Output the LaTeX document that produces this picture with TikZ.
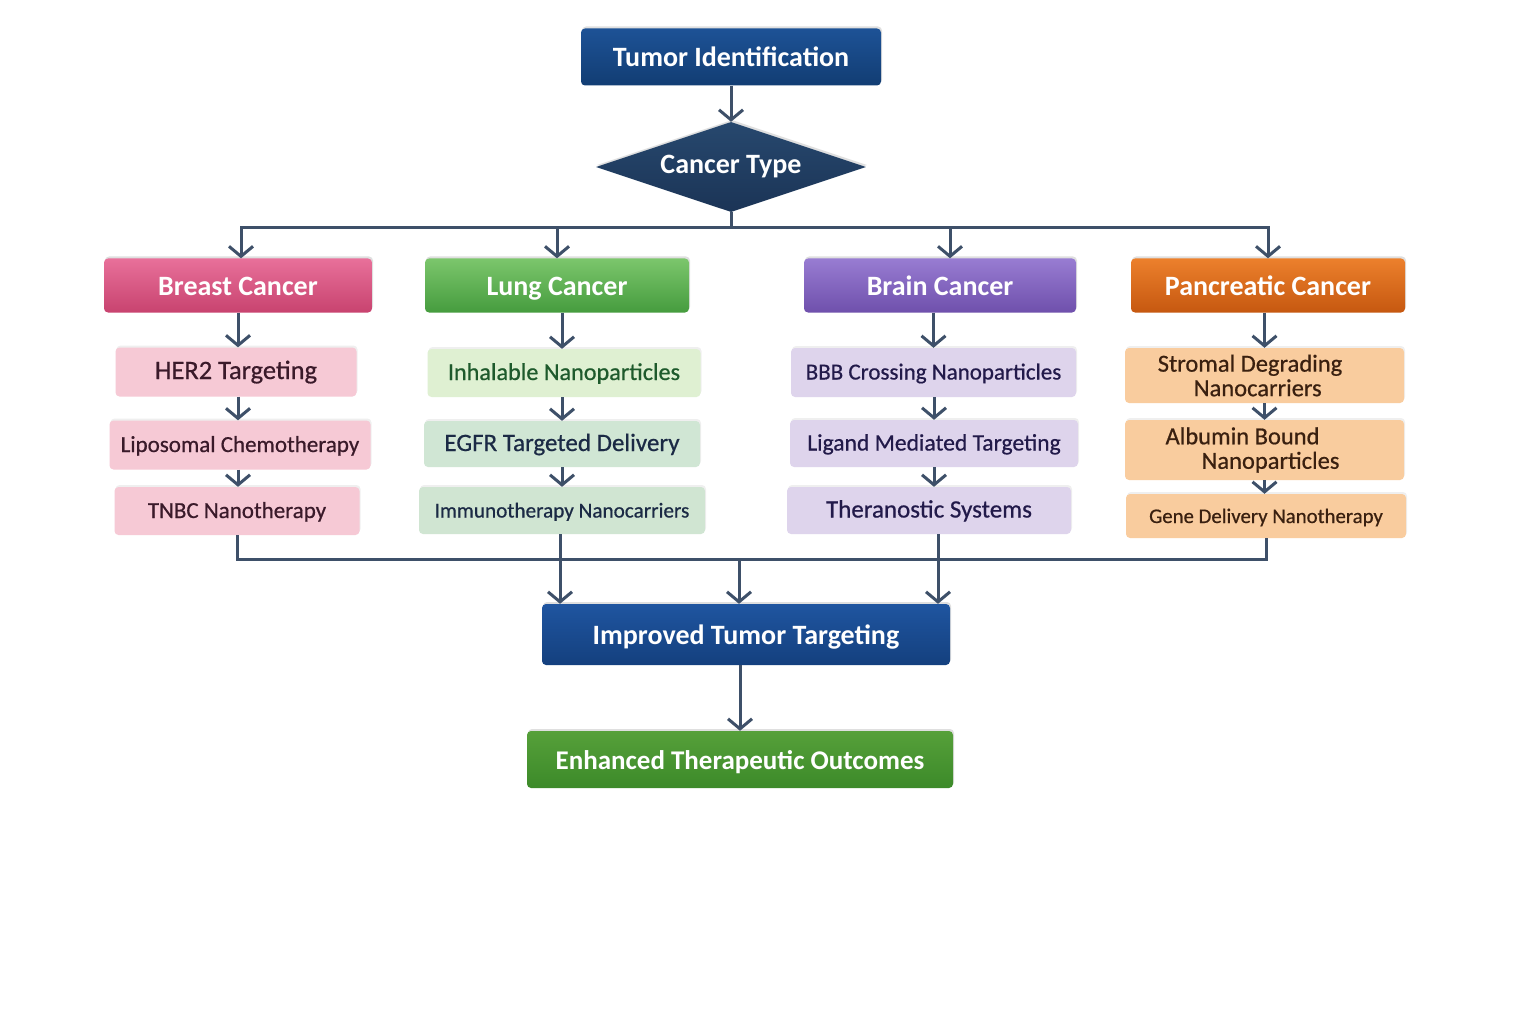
\documentclass[tikz,border=0pt]{standalone}
\usepackage{fontspec}
\setmainfont{Carlito}
\newfontfamily\medfont{Carlito}[FakeBold=0.6]
\usetikzlibrary{arrows.meta,shapes.geometric,shadows}
\definecolor{linecol}{HTML}{3E5069}
\definecolor{plum}{HTML}{3A1A2A}
\definecolor{leaf}{HTML}{1E5A2C}
\definecolor{ink}{HTML}{1B2A45}
\definecolor{grape}{HTML}{221A4A}
\definecolor{rust}{HTML}{3A2010}
\newcommand{\fs}[1]{\medfont\fontsize{#1}{#1}\selectfont}
\tikzset{
	head/.style={rounded corners=4pt, minimum height=54pt, inner sep=2pt, text=white,
		text height=20pt, text depth=1pt,
		font=\bfseries\fontsize{28}{30}\selectfont,
		drop shadow={opacity=.25, shadow xshift=1pt, shadow yshift=2pt}},
	sub/.style={rounded corners=4pt, minimum height=48pt, inner sep=2pt, align=center,
		text height=18pt, text depth=4pt,
		font=\fs{23},
		drop shadow={opacity=.12, shadow xshift=1pt, shadow yshift=2pt}},
	conn/.style={draw=linecol, line width=3pt},
}
\begin{document}
\begin{tikzpicture}[x=1pt, y=-1pt, >={Straight Barb[length=10pt,width=24pt]}]
		\useasboundingbox[fill=white] (0,0) rectangle (1536,1024);
		
		\node[head, top color={rgb,255:red,29;green,82;blue,150}, bottom color={rgb,255:red,18;green,61;blue,115}, minimum width=300pt, minimum height=57pt] (tumor) at (731,57) {Tumor Identification};
		\node[diamond, shape aspect=3, inner sep=0pt, minimum width=270pt, minimum height=90pt, top color={rgb,255:red,39;green,72;blue,110}, bottom color={rgb,255:red,27;green,52;blue,86}, text=white, font=\bfseries\fontsize{28}{30}\selectfont, drop shadow={opacity=.25, shadow xshift=1pt, shadow yshift=2pt}] (type) at (731,167) {Cancer Type};
		
		\node[head, top color={rgb,255:red,232;green,112;blue,154}, bottom color={rgb,255:red,200;green,67;blue,111}, minimum width=268pt] (breast) at (238,285.5) {Breast Cancer};
		\node[head, top color={rgb,255:red,124;green,198;blue,108}, bottom color={rgb,255:red,69;green,156;blue,62}, minimum width=264pt] (lung) at (557,285.5) {Lung Cancer};
		\node[head, top color={rgb,255:red,152;green,124;blue,210}, bottom color={rgb,255:red,111;green,80;blue,172}, minimum width=272pt] (brain) at (940,285.5) {Brain Cancer};
		\node[head, top color={rgb,255:red,236;green,128;blue,44}, bottom color={rgb,255:red,198;green,88;blue,16}, minimum width=274pt] (pancreas) at (1268,285.5) {Pancreatic Cancer};
		
		\node[sub, fill={rgb,255:red,246;green,201;blue,213}, text=plum, minimum width=241pt, minimum height=49pt, font=\fs{26.5}] (her) at (236,372) {HER2 Targeting};
		\node[sub, fill={rgb,255:red,246;green,201;blue,213}, text=plum, minimum width=261pt, minimum height=49pt] (lipo) at (240,445) {Liposomal Chemotherapy};
		\node[sub, fill={rgb,255:red,246;green,201;blue,213}, text=plum, minimum width=245pt, font=\fs{23}] (tnbc) at (237,511) {TNBC Nanotherapy};
		
		\node[sub, fill={rgb,255:red,223;green,240;blue,210}, text=leaf, minimum width=273pt, font=\fs{24.2}] (inhal) at (564,373) {Inhalable Nanoparticles};
		\node[sub, fill={rgb,255:red,208;green,230;blue,212}, text=ink, minimum width=276pt, minimum height=46pt, font=\fs{25}] (egfr) at (562,444) {EGFR Targeted Delivery};
		\node[sub, fill={rgb,255:red,208;green,229;blue,210}, text=ink, minimum width=286pt, minimum height=47pt, font=\fs{21.2}] (immuno) at (562,510.5) {Immunotherapy Nanocarriers};
		
		\node[sub, fill={rgb,255:red,222;green,212;blue,236}, text=grape, minimum width=285pt, minimum height=49pt] (bbb) at (933.5,372.5) {BBB Crossing Nanoparticles};
		\node[sub, fill={rgb,255:red,222;green,212;blue,236}, text=grape, minimum width=288pt, minimum height=47pt, font=\fs{23.6}] (ligand) at (934,443.5) {Ligand Mediated Targeting};
		\node[sub, fill={rgb,255:red,222;green,212;blue,236}, text=grape, minimum width=284pt, minimum height=47pt, font=\fs{25}] (thera) at (929,510.5) {Theranostic Systems};
		
		\node[sub, fill={rgb,255:red,249;green,204;blue,158}, text=rust, minimum width=279pt, minimum height=55pt, text height={}, text depth={}, align=left, font=\fs{24.5}] (stromal) at (1264.5,375.5) {Stromal Degrading\hspace*{29pt}\\ \hspace*{36pt}Nanocarriers};
		\node[sub, fill={rgb,255:red,249;green,204;blue,158}, text=rust, minimum width=279pt, minimum height=60pt, text height={}, text depth={}, align=left, font=\fs{24.5}] (albumin) at (1264.5,450) {Albumin Bound\\ \hspace*{36pt}Nanoparticles\hspace*{24pt}};
		\node[sub, fill={rgb,255:red,249;green,204;blue,158}, text=rust, minimum width=280pt, minimum height=44pt, font=\fs{20.8}] (gene) at (1266,516) {Gene Delivery Nanotherapy};
		
		\node[head, top color={rgb,255:red,31;green,85;blue,160}, bottom color={rgb,255:red,20;green,64;blue,126}, minimum width=408pt, minimum height=61pt] (improved) at (746,634.5) {Improved Tumor Targeting};
		\node[head, top color={rgb,255:red,86;green,160;blue,58}, bottom color={rgb,255:red,60;green,138;blue,41}, minimum width=426pt, minimum height=57pt, font=\bfseries\fontsize{27}{29}\selectfont] (enhanced) at (740,759.5) {Enhanced Therapeutic Outcomes};
		
		\draw[conn, ->] (tumor) -- (type);
		\draw[conn, ->] (type.south) -- ++(0,15) -| ([xshift=3pt]breast.north);
		\draw[conn, ->] (type.south) -- ++(0,15) -| (lung);
		\draw[conn, ->] (type.south) -- ++(0,15) -| ([xshift=10pt]brain.north);
		\draw[conn, ->] (type.south) -- ++(0,15) -| (pancreas);
		
		\draw[conn, ->] (breast) -- (breast |- her.north); \draw[conn, ->] (her.south -| breast) -- (breast |- lipo.north); \draw[conn, ->] (lipo.south -| breast) -- (breast |- tnbc.north);
		\draw[conn, ->] (lung.south -| egfr) -- (egfr |- inhal.north); \draw[conn, ->] (inhal.south -| egfr) -- (egfr); \draw[conn, ->] (egfr) -- (immuno);
		\draw[conn, ->] (brain.south -| bbb) -- (bbb); \draw[conn, ->] (bbb.south -| ligand) -- (ligand); \draw[conn, ->] (ligand) -- (ligand |- thera.north);
		\draw[conn, ->] (pancreas.south -| stromal) -- (stromal); \draw[conn, ->] (stromal) -- (albumin); \draw[conn, ->] (albumin) -- (albumin |- gene.north);
		
		\coordinate (bus) at (739,559);
		\draw[conn] (tnbc.south) |- (bus) -| (gene.south);
		\draw[conn, ->] ([xshift=-2pt]immuno.south) -- ([xshift=-2pt]immuno.south |- improved.north);
		\draw[conn, ->] ([xshift=9pt]thera.south) -- ([xshift=9pt]thera.south |- improved.north);
		\draw[conn, ->] (bus) -- (bus |- improved.north);
		\draw[conn, ->] (improved.south -| enhanced) -- (enhanced);
		\end{tikzpicture}
\end{document}
